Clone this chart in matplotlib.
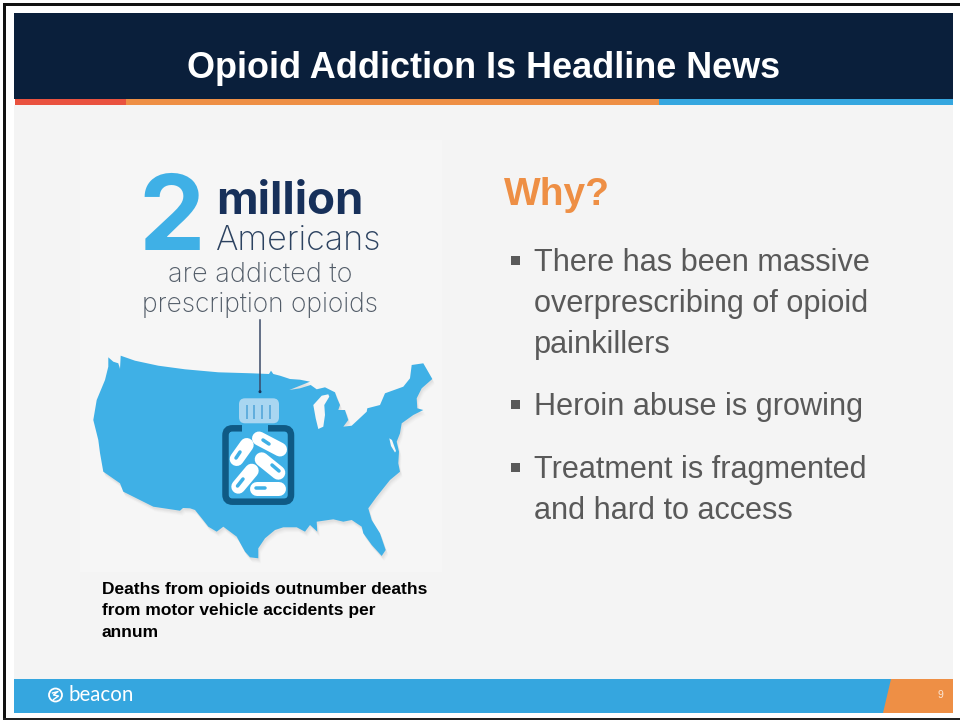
# -*- coding: utf-8 -*-

import numpy as np
import matplotlib
matplotlib.use("Agg")
import matplotlib.pyplot as plt
import matplotlib.patches as mpatches

NAVY = '#0a1f3b'
RED = '#e9523f'
ORANGE = '#ee8f45'
BLUE = '#35a6df'
MAP_BLUE = '#3fb0e6'
PANEL = '#f4f4f4'
ART_BG = '#f6f6f6'
BODY_GREY = '#595959'

title = 'Opioid Addiction Is Headline News'
heading = 'Why?'
bullets = [
    ['There has been massive', 'overprescribing of opioid', 'painkillers'],
    ['Heroin abuse is growing'],
    ['Treatment is fragmented', 'and hard to access'],
]
caption = ['Deaths from opioids outnumber deaths',
           'from motor vehicle accidents per',
           'annum']
page_number = '9'

# outline of the lower 48 on the slide
map_outline = [
    (108.3, 357.3), (113.3, 361.7), (118.3, 363.3), (120, 369), (120.7, 355.7),
    (135, 360.7), (158.3, 365.7), (185, 369.3), (218.3, 372.3), (251.7, 373.3),
    (269, 374), (271, 370.7), (273.3, 374), (280, 375.7), (290, 379), (300, 379.7),
    (310, 381.7), (289.3, 390), (300, 388.3), (310.7, 385), (316.7, 389.3),
    (325, 387.3), (335, 392.3), (337, 398), (340, 405), (338.3, 410), (345, 410),
    (348.3, 420), (343.3, 426.7), (351.7, 425.7), (366.7, 411.7), (367.3, 408.3),
    (380, 405), (385, 393.3), (403.3, 386.7), (410, 378.3), (411.7, 365),
    (423.3, 363.3), (432.3, 379), (421.7, 388.3), (416.7, 398.3), (417.3, 408.3),
    (423.3, 410), (413.3, 415), (401.7, 423.3), (400, 433.3), (396.7, 441.7),
    (399, 451.7), (398.3, 463.3), (400, 471.7), (390, 480), (376.7, 496.7),
    (368.3, 508.3), (371.7, 520), (380, 533.3), (385.7, 550), (381.7, 556),
    (371.7, 545), (363.3, 533.3), (361.7, 526.7), (351.7, 520), (343.3, 521.7),
    (333.3, 519.3), (316.7, 521.7), (317.3, 531.7), (310, 525), (305, 531.7),
    (296.7, 527.3), (283.3, 527.3), (275, 530), (265, 538.3), (258.3, 548.3),
    (258.3, 558.3), (250, 557.3), (245, 551.7), (236.7, 536.7), (223.3, 526.7),
    (216.7, 531.7), (208.3, 526.7), (201.7, 518.3), (195, 510), (190, 508.3),
    (183, 508), (180, 510.7), (153.3, 506.7), (123.3, 491.7), (120, 483.3),
    (103.3, 471.7), (100, 453), (98.3, 440), (93.3, 420), (96.7, 400), (105, 380),
    (108.3, 366.7),
]
lake_michigan = [
    (328.3, 394.3), (321.7, 395.7), (313.3, 405), (315.7, 418.3), (318.3, 429),
    (323.3, 426.7), (325, 415), (324.3, 405), (329.3, 396.7),
]
chesapeake = [(389.3, 438.3), (392, 440), (396, 451), (395, 452.5), (391, 446)]

# pill ends inside the jar, plus the slit on each one
pill_ends = [
    ((236.7, 459), (246.7, 445)),
    ((259, 438.5), (280, 449.5)),
    ((261.7, 459.3), (278.3, 472.7)),
    ((238.3, 486.7), (251.7, 470.7)),
    ((256.7, 489), (279.3, 489)),
]
pill_slits = [
    ((236, 458), (240, 452)),
    ((263, 440), (269, 444)),
    ((272, 465), (279, 471)),
    ((237.5, 486), (243, 479)),
    ((256, 488), (265, 488)),
]
cap_ticks = [246.7, 254.3, 262.3, 270]


def px_lw(px):
    # line width given in pixels
    return px * 72.0 / 100.0


fig = plt.figure(figsize=(9.6, 7.21), dpi=100)
ax = fig.add_axes([0, 0, 1, 1])
ax.set_xlim(0, 960)
ax.set_ylim(721, 0)
ax.axis('off')


def box(x0, y0, x1, y1, color, z=1):
    ax.add_patch(mpatches.Rectangle((x0, y0), x1 - x0, y1 - y0, fc=color, ec='none', zorder=z))


# slide frame
box(3, 3, 960, 5.5, '#111111')
box(3, 3, 5.5, 720, '#111111')
box(3, 717.5, 960, 720, '#222222')

# header band and colour strip
box(14, 13, 953, 99, NAVY)
box(15, 99, 126, 105, RED)
box(126, 99, 659, 105, ORANGE)
box(659, 99, 953, 105, BLUE)
ax.text(483.5, 77.5, title, color='white', fontsize=25.9, fontweight='bold',
        family='Liberation Sans', ha='center', va='baseline', zorder=3)

# content panel
box(14, 105, 953, 679, PANEL)
box(80, 140, 442, 572, ART_BG, z=1.5)

# footer
box(14, 679, 953, 713, BLUE)
ax.add_patch(mpatches.Polygon([(891, 679), (953, 679), (953, 713), (883, 713)],
                              fc=ORANGE, ec='none', zorder=2))
ax.text(940, 695.5, page_number, color='#fbe6d5', fontsize=7.5, family='Liberation Sans',
        ha='center', va='center', zorder=3)
ax.add_patch(mpatches.Circle((55.5, 695), 6.5, fc='none', ec='white', lw=1.3, zorder=3))
ax.plot([52.5, 58, 53.5, 58.5, 53.5], [693, 691.5, 695, 696, 699.5], color='white', lw=1, zorder=3)
ax.text(68, 695, 'beacon', color='white', fontsize=14.8, family='Lato', ha='left', va='center',
        zorder=3)

# map with its soft drop shadow
for off, alpha in [(5, 0.03), (4, 0.04), (3, 0.05), (2, 0.07)]:
    ax.add_patch(mpatches.Polygon([(x + off * 0.5, y + off) for x, y in map_outline],
                                  fc='#888888', ec='none', alpha=alpha, zorder=2))
ax.add_patch(mpatches.Polygon(map_outline, fc=MAP_BLUE, ec='none', zorder=2.2))
ax.add_patch(mpatches.Polygon(lake_michigan, fc=ART_BG, ec='none', zorder=2.3))
ax.add_patch(mpatches.Polygon(chesapeake, fc=ART_BG, ec='none', zorder=2.3))

# pointer from the text to the jar
ax.plot([260, 260], [320, 391.7], color='#3b4a68', lw=1.1, zorder=3)
ax.add_patch(mpatches.Circle((260, 391.7), 1.5, fc='#1c3559', ec='none', zorder=3))

# jar
ax.add_patch(mpatches.FancyBboxPatch(
    (225.5, 428.3), 65.5, 73.4,
    boxstyle='round,pad=0,rounding_size=7', fc='none', ec='#0f5a85', lw=px_lw(6.5), zorder=3))
box(241.7, 420, 268.3, 435, MAP_BLUE, z=3.1)
ax.add_patch(mpatches.FancyBboxPatch(
    (239, 398.3), 40, 25,
    boxstyle='round,pad=0,rounding_size=6', fc='#a9d6f1', ec='none', zorder=3.2))
for t in cap_ticks:
    ax.plot([t, t], [406, 418.3], color='#62aedd', lw=px_lw(2), zorder=3.3)
for (a, b) in pill_ends:
    ax.plot([a[0], b[0]], [a[1], b[1]], color='white', lw=px_lw(14),
            solid_capstyle='round', zorder=3.4)
for (a, b) in pill_slits:
    ax.plot([a[0], b[0]], [a[1], b[1]], color=MAP_BLUE, lw=px_lw(3.5),
            solid_capstyle='round', zorder=3.5)

# infographic wording
ax.text(138, 250, '2', color=MAP_BLUE, fontsize=76, fontweight='bold', family='Inter',
        ha='left', va='baseline', zorder=3)
ax.text(216, 214.5, 'million', color='#17305a', fontsize=32.8, fontweight='bold', family='Inter',
        ha='left', va='baseline', zorder=3)
ax.text(216, 249.5, 'Americans', color='#2c4260', fontsize=24.6, fontweight='light', family='Inter',
        ha='left', va='baseline', zorder=3)
ax.text(260, 281.5, 'are addicted to', color='#525c68', fontsize=19.5, fontweight='light',
        family='Inter', ha='center', va='baseline', zorder=3)
ax.text(260, 311.5, 'prescription opioids', color='#525c68', fontsize=19, fontweight='light',
        family='Inter', ha='center', va='baseline', zorder=3)

for i, line in enumerate(caption):
    ax.text(102, 594 + i * 21.5, line, color='black', fontsize=12.5, fontweight='bold',
            family='Liberation Sans', ha='left', va='baseline', zorder=3)

# right column
ax.text(504, 205, heading, color=ORANGE, fontsize=28, fontweight='bold',
        family='Liberation Sans', ha='left', va='baseline', zorder=3)
line_ys = [[271, 312, 353], [415], [478, 519]]
for block, ys in zip(bullets, line_ys):
    box(511, ys[0] - 15, 520, ys[0] - 6, BODY_GREY, z=3)
    for line, y in zip(block, ys):
        ax.text(534, y, line, color=BODY_GREY, fontsize=22.05, family='Liberation Sans',
                ha='left', va='baseline', zorder=3)

fig.savefig('out.png', dpi=100)
